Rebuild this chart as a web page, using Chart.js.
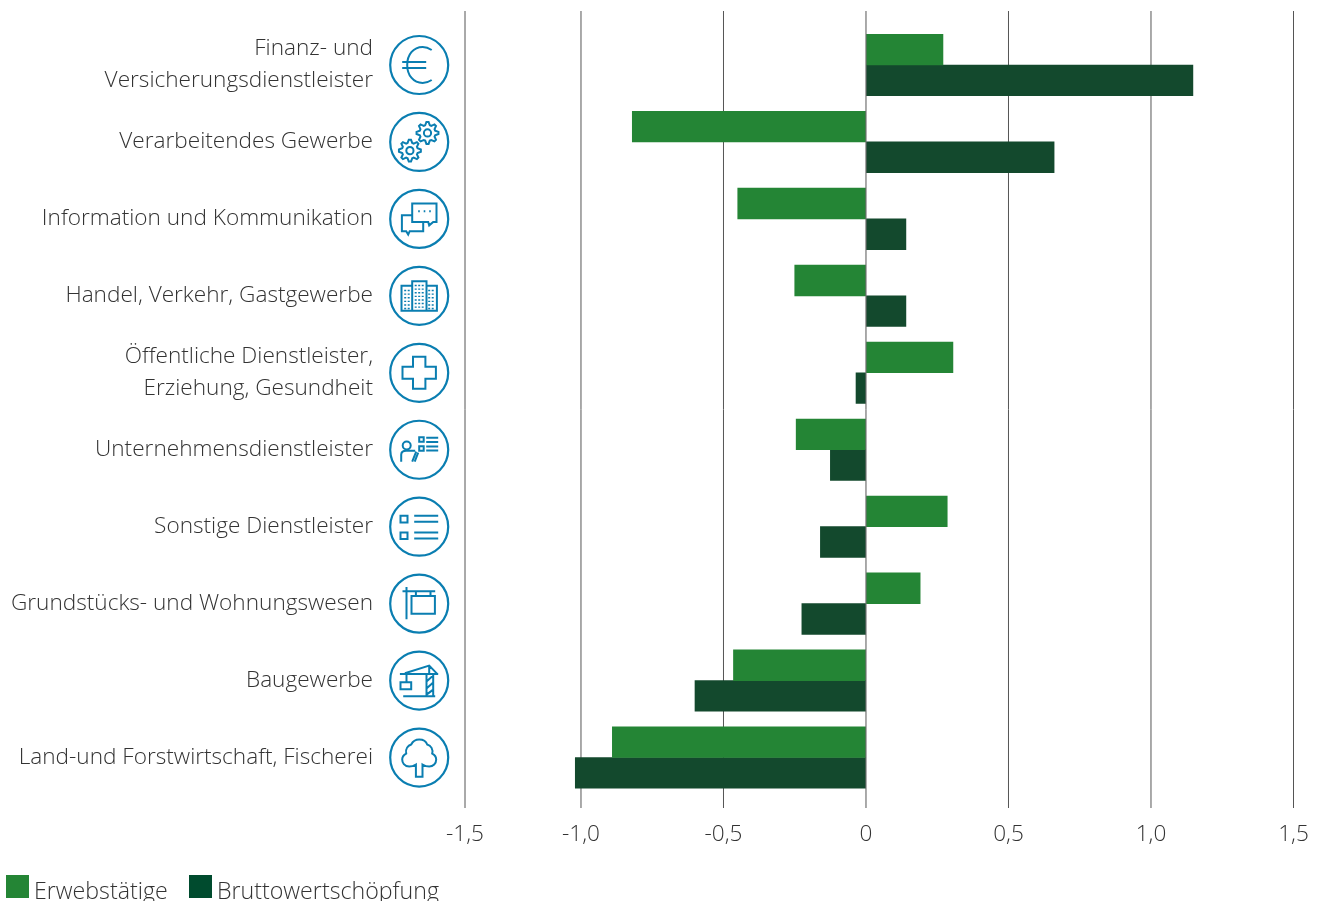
<!DOCTYPE html>
<html lang="de">
<head>
<meta charset="utf-8">
<title>Erwerbstätige und Bruttowertschöpfung</title>
<script src="https://cdn.jsdelivr.net/npm/chart.js@4/dist/chart.umd.min.js"></script>
<style>
    html, body { margin: 0; padding: 0; background: #fff; overflow: hidden; }
    #wrap { position: relative; width: 1317px; height: 901px; overflow: hidden; }
    canvas { display: block; }
    .legend-item { position: absolute; top: 875px; height: 23px; font: 300 23.2px/30px "Open Sans", sans-serif; color: #333; white-space: nowrap; }
    .legend-box { position: absolute; left: 0; top: 0; width: 23px; height: 23px; }
    .legend-text { position: absolute; left: 28px; top: 0; }
</style>
</head>
<body>
<div id="wrap">
    <canvas id="chart" width="1317" height="901"></canvas>
</div>
<script>
const categories = [
    ['Finanz- und', 'Versicherungsdienstleister'],
    'Verarbeitendes Gewerbe',
    'Information und Kommunikation',
    'Handel, Verkehr, Gastgewerbe',
    ['Öffentliche Dienstleister,', 'Erziehung, Gesundheit'],
    'Unternehmensdienstleister',
    'Sonstige Dienstleister',
    'Grundstücks- und Wohnungswesen',
    'Baugewerbe',
    'Land-und Forstwirtschaft, Fischerei'
];
const erwerbstaetige = [0.27, -0.82, -0.45, -0.25, 0.305, -0.245, 0.285, 0.19, -0.465, -0.89];
const bruttowertschoepfung = [1.147, 0.66, 0.14, 0.14, -0.035, -0.125, -0.16, -0.225, -0.6, -1.02];

// the left gridline sits closer to -1,0 than the others do, same as in the source graphic
const tickValues = [-1.407, -1, -0.5, 0, 0.5, 1, 1.5];
const tickLabels = ['-1,5', '-1,0', '-0,5', '0', '0,5', '1,0', '1,5'];

const legendItems = [
    { label: 'Erwebstätige', color: '#248535', left: 6 },
    { label: 'Bruttowertschöpfung', color: '#004b2e', left: 189 }
];

const FONT = '"Open Sans", sans-serif';
const TEXT_COLOR = '#333333';
const GRID_COLOR = '#555555';
const ICON_COLOR = '#0a7eb1';
const ICON_X = 419.2;

function gearPath(cx, cy, outer, inner, hole) {
    let d = '';
    const teeth = 8;
    for (let i = 0; i < teeth * 4; i++) {
        const r = (i % 4 < 2) ? outer : inner;
        const a = (i - 0.5) / (teeth * 4) * Math.PI * 2;
        d += (i === 0 ? 'M' : 'L') + (cx + r * Math.cos(a)).toFixed(2) + ' ' + (cy + r * Math.sin(a)).toFixed(2);
    }
    d += 'Z';
    d += `M${cx + hole} ${cy}A${hole} ${hole} 0 1 0 ${cx - hole} ${cy}A${hole} ${hole} 0 1 0 ${cx + hole} ${cy}Z`;
    return d;
}

function windowDots() {
    let d = '';
    [[-14, -6], [-10.5, -6], [-3.5, -11], [0, -11], [3.5, -11], [10, -6], [13.5, -6]].forEach(([x, top]) => {
        for (let y = top; y < 13; y += 3.6) d += `M${x} ${y}v1.4`;
    });
    return d;
}

// one icon per category, drawn around the centre of the circle
const iconPaths = [
    'M12.5-15C9.5-17 6.5-18 3.5-18C-6-18-12-10-12 0C-12 10-6 18 3.5 18C6.5 18 9.5 17 12.5 15M-17-3H7M-17 3H7',
    gearPath(8.3, -9, 11, 8, 3.6) + gearPath(-9.3, 8.7, 11, 8, 3.6),
    'M-7-15.3H17.3V3H14L10 6.5L9 3H-7ZM-7-3.7H-17.3V12.3H-13L-11 15.7L-9.5 12.3H4V3M-1-7.7h1.6M4.5-7.7h1.6M10-7.7h1.6',
    'M-7-10H-17.7V15H17.7V-10H7.3M-7 15V-14.7H7.3V15' + windowDots(),
    'M-6.2-16H6.2V-6H16.7V6H6.2V16H-6.2V6H-16.7V-6H-6.2Z',
    'M-8.5-4.3A4 4 0 1 1-16.5-4.3A4 4 0 1 1-8.5-4.3ZM-18 12V5C-18 2-16 1-13 1H-4M-7 12L-3 2M-4.5 12L-1 3M0-12.5H4.5V-8H0ZM0-3.5H4.5V1H0ZM7-12H19M7-7.7H19M7-3.3H19M7 0.7H19',
    'M-18.7-11H-11.7V-4.3H-18.7ZM-18.7 5.7H-11.7V12.3H-18.7ZM-5-11H19M-5-5H19M-5 5.7H19M-5 11.7H19',
    'M-16.7-12.3H16M-12.7-16.7V15.7M-7.7-7.7H15.7V10H-7.7ZM-3.3-12.3V-7.7M11.3-12.3V-7.7',
    'M-19.3-6.7H19M-14.3-7.3L10-15L18-6.7M10-15V-6.7M7.3-6.7V15M14-6.7V15M7.3 1L14-5M7.3 8L14 2M7.3 14L14 9M-16 15.7H16M-12.7-6.7V1.7M-18.7 1.7H-8V8.7H-18.7Z',
    'M-10 9C-15 9-17 5-17 2C-17-1-15-3-13-4C-14-9-11-12-8-13C-6-17-3-18 0-18C4-18 7-16 8-13C12-12 14-8 13-4C15-3 17-1 17 2C17 6 14 9 10 9C7 9 5 8 3.3 7V19.3H-3.3V7C-5 8-7 9-10 9Z'
];

// gridlines run past the category bands at both ends, so the built-in grid is not enough
const gridPlugin = {
    id: 'longGrid',
    beforeDatasetsDraw(chart) {
        tickValues.filter(v => v !== 0).forEach(v => drawGridLine(chart, v));
    },
    afterDatasetsDraw(chart) {
        drawGridLine(chart, 0);
    }
};

function drawGridLine(chart, value) {
    const ctx = chart.ctx;
    const x = chart.scales.x.getPixelForValue(value);
    ctx.save();
    ctx.strokeStyle = GRID_COLOR;
    ctx.lineWidth = 1;
    ctx.beginPath();
    ctx.moveTo(x, 11);
    ctx.lineTo(x, 808);
    ctx.stroke();
    ctx.restore();
}

const iconPlugin = {
    id: 'categoryIcons',
    afterDraw(chart) {
        const ctx = chart.ctx;
        categories.forEach((c, i) => {
            const cy = chart.scales.y.getPixelForValue(i);
            ctx.save();
            ctx.translate(ICON_X, cy);
            ctx.strokeStyle = ICON_COLOR;
            ctx.lineWidth = 2.2;
            ctx.beginPath();
            ctx.arc(0, 0, 29, 0, Math.PI * 2);
            ctx.stroke();
            ctx.lineWidth = 2;
            ctx.stroke(new Path2D(iconPaths[i]));
            ctx.restore();
        });
    }
};

// tick padding also pads the chart area in Chart.js, so the gap comes from invisible tick marks
const axisGrid = length => ({ color: 'transparent', drawOnChartArea: false, drawTicks: true, tickLength: length });

new Chart(document.getElementById('chart'), {
    type: 'bar',
    data: {
        labels: categories,
        datasets: [
            { label: legendItems[0].label, data: erwerbstaetige, backgroundColor: '#248535', borderWidth: 0 },
            { label: legendItems[1].label, data: bruttowertschoepfung, backgroundColor: '#13492d', borderWidth: 0 }
        ]
    },
    options: {
        indexAxis: 'y',
        responsive: false,
        animation: false,
        layout: { padding: { top: 26.5, right: 23.5, bottom: 0, left: 0 } },
        plugins: {
            legend: { display: false },
            tooltip: { enabled: false }
        },
        datasets: { bar: { barThickness: 30.7 } },
        scales: {
            x: {
                type: 'linear',
                min: tickValues[0],
                max: tickValues[tickValues.length - 1],
                afterBuildTicks: axis => { axis.ticks = tickValues.map(v => ({ value: v })); },
                afterFit: axis => { axis.height = 105; },
                grid: axisGrid(25),
                border: { display: false },
                ticks: {
                    callback: (value, index) => tickLabels[index],
                    autoSkip: false,
                    maxRotation: 0,
                    padding: 0,
                    color: TEXT_COLOR,
                    font: { family: FONT, size: 22.6, weight: '300' }
                }
            },
            y: {
                afterFit: axis => { axis.width = 465; },
                grid: axisGrid(92),
                border: { display: false },
                ticks: {
                    autoSkip: false,
                    padding: 0,
                    labelOffset: 0,
                    color: TEXT_COLOR,
                    font: { family: FONT, size: 22.6, weight: '300', lineHeight: 1.42 }
                }
            }
        }
    },
    plugins: [gridPlugin, iconPlugin]
});

const wrap = document.getElementById('wrap');
legendItems.forEach(item => {
    const el = document.createElement('div');
    el.className = 'legend-item';
    el.style.left = item.left + 'px';
    const box = document.createElement('div');
    box.className = 'legend-box';
    box.style.background = item.color;
    const text = document.createElement('div');
    text.className = 'legend-text';
    text.textContent = item.label;
    el.appendChild(box);
    el.appendChild(text);
    wrap.appendChild(el);
});
</script>
</body>
</html>
